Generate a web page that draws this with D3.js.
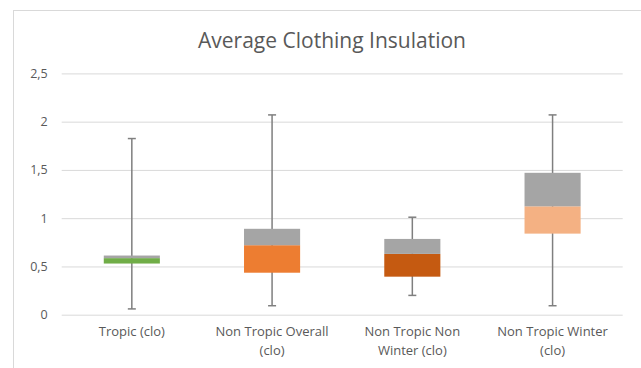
<!DOCTYPE html>
<html><head><meta charset="utf-8">
<script src="https://cdn.jsdelivr.net/npm/d3@7"></script>
<style>body{margin:0;background:#fff}svg{display:block}text{font-family:"Open Sans",sans-serif;fill:#595959}</style>
</head><body><svg id="c" width="641" height="368"></svg>
<script>
const categories = [["Tropic (clo)"],["Non Tropic Overall","(clo)"],["Non Tropic Non","Winter (clo)"],["Non Tropic Winter","(clo)"]];
const minVals = [0.06, 0.093, 0.20, 0.093];
const q1Vals = [0.53, 0.435, 0.394, 0.84];
const medVals = [0.586, 0.72, 0.63, 1.123];
const q3Vals = [0.613, 0.89, 0.785, 1.47];
const maxVals = [1.825, 2.07, 1.01, 2.07];
const lowerColors = ["#70AD47","#ED7D31","#C55A11","#F4B183"];
const upperColor = "#A5A5A5";
const yTicks = [0,0.5,1,1.5,2,2.5];
const title = "Average Clothing Insulation";

const svg = d3.select("#c");
svg.append("rect").attr("x",13.5).attr("y",10.5).attr("width",700).attr("height",400)
  .attr("fill","#fff").attr("stroke","#D9D9D9");

const x = d3.scaleBand().domain(d3.range(categories.length)).range([61.7,622.7]).paddingInner(0.6).paddingOuter(0.3);
const y = d3.scaleLinear().domain([0,2.5]).range([314.7,73.4]);

svg.append("text").attr("x",332).attr("y",48).attr("text-anchor","middle").attr("font-size","21px").text(title);

const yAxis = svg.append("g").attr("transform","translate(61.7,0)")
  .call(d3.axisLeft(y).tickValues(yTicks).tickSize(-561).tickFormat(d=>String(d).replace(".",",")).tickPadding(14));
yAxis.select(".domain").remove();
yAxis.selectAll("line").attr("stroke","#D9D9D9").attr("stroke-width",1);
yAxis.selectAll("text").attr("font-size","12.5px").attr("fill","#595959").style("font-family","Open Sans");

const cx = i => x(i) + x.bandwidth()/2;
const g = svg.append("g");
categories.forEach((c,i)=>{
  g.append("line").attr("x1",cx(i)).attr("x2",cx(i)).attr("y1",y(minVals[i])).attr("y2",y(maxVals[i]))
    .attr("stroke","#7F7F7F").attr("stroke-width",1.5);
  [minVals[i],maxVals[i]].forEach(v=>{
    g.append("line").attr("x1",cx(i)-4).attr("x2",cx(i)+4).attr("y1",y(v)).attr("y2",y(v))
      .attr("stroke","#7F7F7F").attr("stroke-width",1.5);
  });
  g.append("rect").attr("x",x(i)).attr("width",x.bandwidth()).attr("y",y(medVals[i])).attr("height",y(q1Vals[i])-y(medVals[i]))
    .attr("fill",lowerColors[i]);
  g.append("rect").attr("x",x(i)).attr("width",x.bandwidth()).attr("y",y(q3Vals[i])).attr("height",y(medVals[i])-y(q3Vals[i]))
    .attr("fill",upperColor);
});

const xl = svg.append("g");
categories.forEach((lines,i)=>{
  const t = xl.append("text").attr("x",cx(i)).attr("y",336).attr("text-anchor","middle").attr("font-size","13px");
  lines.forEach((l,k)=>t.append("tspan").attr("x",cx(i)).attr("dy",k?19:0).text(l));
});
</script></body></html>
